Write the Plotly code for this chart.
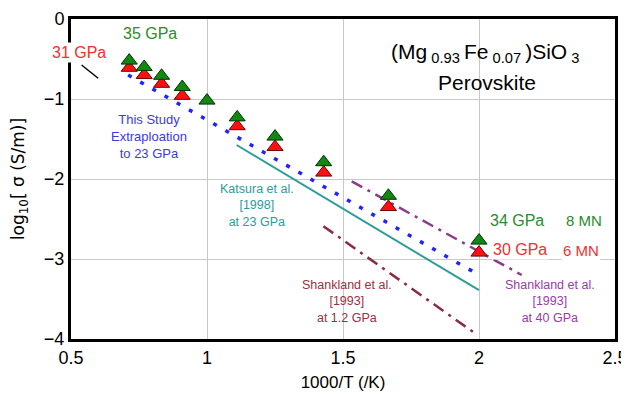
import plotly.graph_objects as go

# ---- data ----
inv_T = [0.714, 0.769, 0.833, 0.909, 1.0, 1.111, 1.25, 1.429, 1.667, 2.0]
log_sigma_35GPa = [-0.52, -0.60, -0.71, -0.85, -1.02, -1.23, -1.47, -1.79, -2.21, -2.77]
log_sigma_31GPa = [-0.61, -0.70, -0.81, -0.96, None, -1.34, -1.60, -1.92, -2.35, -2.92]

this_study_x = [0.71, 2.0]
this_study_y = [-0.70, -3.20]

katsura_x = [1.109, 2.0]
katsura_y = [-1.575, -3.39]

shankland12_x = [1.428, 1.99]
shankland12_y = [-2.59, -3.94]

shankland40_x = [1.532, 2.157]
shankland40_y = [-2.03, -3.20]

leader_x = [0.539, 0.600]
leader_y = [-0.575, -0.741]

x_ticks = [0.5, 1, 1.5, 2, 2.5]
y_ticks = [0, -1, -2, -3, -4]

FONT = "Liberation Sans, Arial, sans-serif"
GREEN = "#2a8c2a"
RED = "#f03030"
BLUE = "#3a3ae0"
TEAL = "#2e9a9a"
DRED = "#9a3040"
PURPLE = "#9a3aa8"

fig = go.Figure()

fig.add_trace(go.Scatter(x=this_study_x, y=this_study_y, mode="lines",
                         line=dict(color="#2222ff", width=3.5, dash="4px,10px"),
                         showlegend=False, hoverinfo="skip"))
fig.add_trace(go.Scatter(x=katsura_x, y=katsura_y, mode="lines",
                         line=dict(color="#2f9c9c", width=2),
                         showlegend=False, hoverinfo="skip"))
fig.add_trace(go.Scatter(x=shankland12_x, y=shankland12_y, mode="lines",
                         line=dict(color="#8c2a40", width=2.5, dash="12px,6px,3px,6px"),
                         showlegend=False, hoverinfo="skip"))
fig.add_trace(go.Scatter(x=shankland40_x, y=shankland40_y, mode="lines",
                         line=dict(color="#8c3a8c", width=2.5, dash="12px,6px,3px,6px"),
                         showlegend=False, hoverinfo="skip"))
fig.add_trace(go.Scatter(x=leader_x, y=leader_y, mode="lines",
                         line=dict(color="black", width=1.5),
                         showlegend=False, hoverinfo="skip"))

fig.add_trace(go.Scatter(x=inv_T, y=log_sigma_31GPa, mode="markers", name="31 GPa",
                         marker=dict(symbol="triangle-up", size=14, color="#ff1010",
                                     line=dict(color="#700000", width=1)),
                         showlegend=False))
fig.add_trace(go.Scatter(x=inv_T, y=log_sigma_35GPa, mode="markers", name="35 GPa",
                         marker=dict(symbol="triangle-up", size=14, color="#118811",
                                     line=dict(color="#003300", width=1)),
                         showlegend=False))


def ann(text, x, y, color, size, bg=None):
    d = dict(text=text, x=x, y=y, xref="x", yref="y", showarrow=False,
             xanchor="center", yanchor="middle",
             font=dict(family=FONT, size=size, color=color))
    if bg:
        d["bgcolor"] = bg
        d["borderpad"] = 1
    fig.add_annotation(**d)


ann("35 GPa", 0.790, -0.175, GREEN, 16)
ann("31 GPa", 0.531, -0.4125, RED, 16, bg="white")
ann("This Study<br>Extraploation<br>to 23 GPa", 0.787, -1.4625, BLUE, 13)
ann("(Mg<sub> 0.93 </sub>Fe<sub> 0.07 </sub>)SiO<sub> 3</sub>", 2.022, -0.425, "black", 21)
ann("Perovskite", 2.029, -0.79, "black", 21)
ann("Katsura et al.<br>[1998]<br>at 23 GPa", 1.184, -2.33, TEAL, 12.5)
ann("Shankland et al.<br>[1993]<br>at 1.2 GPa", 1.515, -3.53, DRED, 12.5)
ann("Shankland et al.<br>[1993]<br>at 40 GPa", 2.261, -3.53, PURPLE, 12.5)
ann("34 GPa", 2.138, -2.5125, GREEN, 16)
ann("8 MN", 2.386, -2.5125, GREEN, 15)
ann("30 GPa", 2.151, -2.879, RED, 16, bg="white")
ann("6 MN", 2.375, -2.896, RED, 15, bg="white")

fig.update_xaxes(range=[0.5, 2.5], tickvals=x_ticks, ticktext=[str(v) for v in x_ticks],
                 showgrid=True, gridcolor="#c8c8c8", gridwidth=1,
                 showline=True, linecolor="black", linewidth=3, mirror=True,
                 ticks="", zeroline=False, automargin=False,
                 tickfont=dict(family=FONT, size=18, color="black"),
                 title=dict(text="1000/T (/K)", standoff=10,
                            font=dict(family=FONT, size=17, color="black")))
fig.update_yaxes(range=[-4, 0], tickvals=y_ticks, ticktext=["0", "−1", "−2", "−3", "−4"],
                 showgrid=True, gridcolor="#c8c8c8", gridwidth=1,
                 showline=True, linecolor="black", linewidth=3, mirror=True,
                 ticks="", zeroline=False, automargin=False,
                 tickfont=dict(family=FONT, size=18, color="black"),
                 title=dict(text="log<sub>10</sub>[ σ (S/m)]", standoff=16,
                            font=dict(family="DejaVu Sans, sans-serif", size=17, color="black")))

# the page body has an 8px default margin, so the figure is sized to fit the window
fig.update_layout(width=621, height=386,
                  margin=dict(l=63, r=14, t=11, b=55),
                  plot_bgcolor="white", paper_bgcolor="white")

fig.write_html("out.html")
